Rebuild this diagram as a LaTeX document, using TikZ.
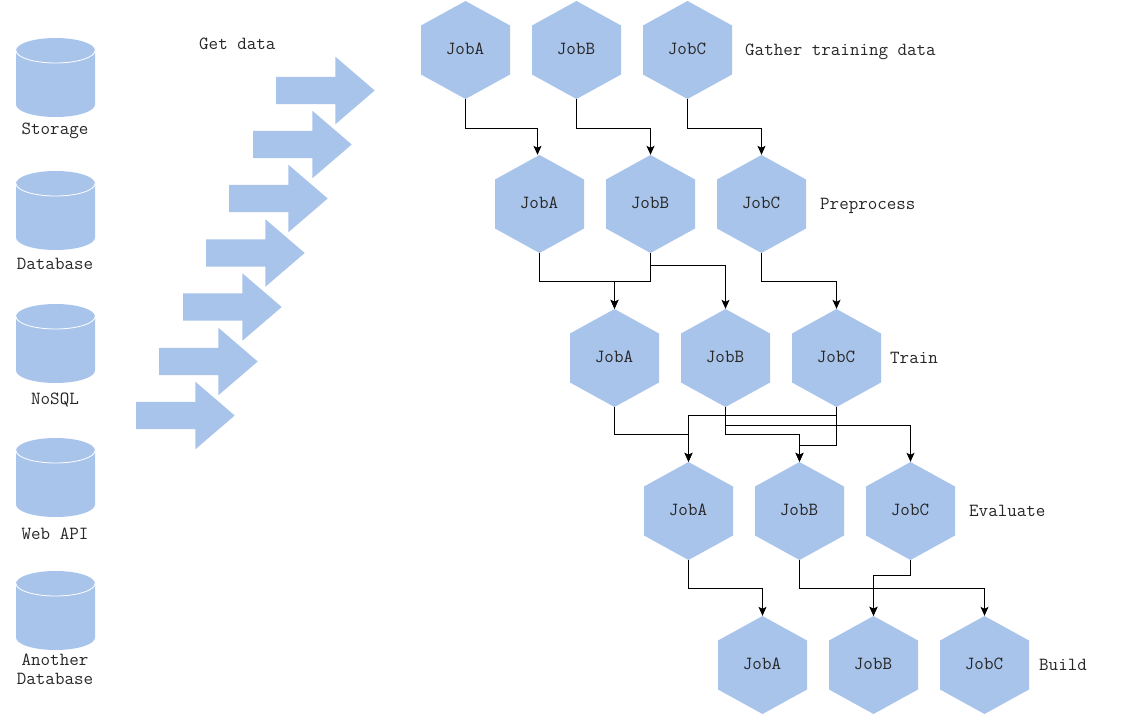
\documentclass[tikz,border=0pt]{standalone}
\usetikzlibrary{arrows.meta,shapes.arrows}
\definecolor{jobblue}{HTML}{A9C4EB}
\tikzset{
  labeltext/.style={font=\ttfamily\fontsize{18.5}{19}\selectfont,text=black!85,inner sep=0pt,align=center},
  sidelabel/.style={labeltext,anchor=base west},
  hexbox/.style={labeltext,text height=8pt,text depth=0pt,minimum width=89pt,minimum height=98pt,
    path picture={\fill[jobblue] (path picture bounding box.north)
      -- ([yshift=-24.5pt]path picture bounding box.north east)
      -- ([yshift=24.5pt]path picture bounding box.south east)
      -- (path picture bounding box.south)
      -- ([yshift=24.5pt]path picture bounding box.south west)
      -- ([yshift=-24.5pt]path picture bounding box.north west) -- cycle;}},
  drum/.style={inner sep=0pt,minimum width=79pt,minimum height=79pt,
    path picture={
      \fill[jobblue] ([yshift=-12.5pt]path picture bounding box.north west)
        arc[start angle=180,end angle=0,x radius=39.5pt,y radius=12.5pt]
        -- ([yshift=12.5pt]path picture bounding box.south east)
        arc[start angle=0,end angle=-180,x radius=39.5pt,y radius=12.5pt] -- cycle;
      \draw[white,line width=0.8pt] ([yshift=-12.5pt]path picture bounding box.north west)
        arc[start angle=180,end angle=360,x radius=39.5pt,y radius=12.5pt];}},
  bigarrow/.style={single arrow,fill=jobblue,inner xsep=0pt,inner ysep=13.5pt,minimum height=98.5pt,minimum width=67pt,
    single arrow head extend=20pt,single arrow tip angle=81.3,anchor=tip},
  flow/.style={draw=black,line width=1pt,-{Stealth[length=9pt,width=8pt,inset=2pt]}},
}
\begin{document}
\begin{tikzpicture}[x=1pt,y=-1pt]
\useasboundingbox (0,0) rectangle (1122,717);
% data stores
\node[drum] (d1) at (55.5,77.5) {};
\node[drum] (d2) at (55.5,210.5) {};
\node[drum] (d3) at (55.5,343.5) {};
\node[drum] (d4) at (55.5,477.5) {};
\node[drum] (d5) at (55.5,610.5) {};
\node[labeltext,anchor=base] (l1) at (55,134.5) {Storage};
\node[labeltext,anchor=base] (l2) at (55,269.5) {Database};
\node[labeltext,anchor=base] (l3) at (55,404.5) {NoSQL};
\node[labeltext,anchor=base] (l4) at (55,539.5) {Web API};
\node[labeltext,anchor=base] (l5a) at (55,665.5) {Another};
\node[labeltext,anchor=base] (l5b) at (55,684.5) {Database};
% arrows
\node[bigarrow] (r1) at (375,90.5) {};
\node[bigarrow] (r2) at (352,144.5) {};
\node[bigarrow] (r3) at (328,198.5) {};
\node[bigarrow] (r4) at (305,253) {};
\node[bigarrow] (r5) at (282,307) {};
\node[bigarrow] (r6) at (258,361.5) {};
\node[bigarrow] (r7) at (235,415.5) {};
\node[sidelabel] (g) at (199,50) {Get data};
% jobs
\foreach \r/\x/\y in {1/465.5/50,2/539.5/204,3/614.5/358,4/688.5/511,5/762.5/665}{
  \node[hexbox] (a\r) at (\x,\y) {\makebox[0pt]{\hspace{-1pt}\raisebox{-0.8pt}{JobA}}};
  \node[hexbox] (b\r) at (\x+111,\y) {\makebox[0pt]{\hspace{-1pt}\raisebox{-0.8pt}{JobB}}};
  \node[hexbox] (c\r) at (\x+222,\y) {\makebox[0pt]{\hspace{-1pt}\raisebox{-0.8pt}{JobC}}};
}
\node[sidelabel] (s1) at (745,55.3) {Gather training data};
\node[sidelabel] (s2) at (820,209.3) {Preprocess};
\node[sidelabel] (s3) at (890,363.3) {Train};
\node[sidelabel] (s4) at (969,516.3) {Evaluate};
\node[sidelabel] (s5) at (1039,670.3) {Build};
% connectors
\draw[flow] (a1.south) -- ++(0,29) -| ([xshift=-2pt]a2.north);
\draw[flow] (b1.south) -- ++(0,29) -| (b2.north);
\draw[flow] (c1.south) -- ++(0,29) -| (c2.north);
\draw[flow] (a2.south) -- ++(0,28) -| (a3.north);
\draw[flow] (b2.south) -- ++(0,28) -| (a3.north);
\draw[flow] (b2.south) -- ++(0,12) -| (b3.north);
\draw[flow] (c2.south) -- ++(0,28) -| (c3.north);
\draw[flow] (a3.south) -- ++(0,27.5) -| (a4.north);
\draw[flow] (c3.south) -- ++(0,8) -| (a4.north);
\draw[flow] (b3.south) -- ++(0,18) -| (c4.north);
\draw[flow] (b3.south) -- ++(0,27.5) -| (b4.north);
\draw[flow] (c3.south) -- ++(0,38) -| (b4.north);
\draw[flow] (a4.south) -- ++(0,28) -| (a5.north);
\draw[flow] (c4.south) -- ++(0,15) -| (b5.north);
\draw[flow] (b4.south) -- ++(0,28) -| (b5.north);
\draw[flow] (b4.south) -- ++(0,28) -| (c5.north);
\end{tikzpicture}
\end{document}
